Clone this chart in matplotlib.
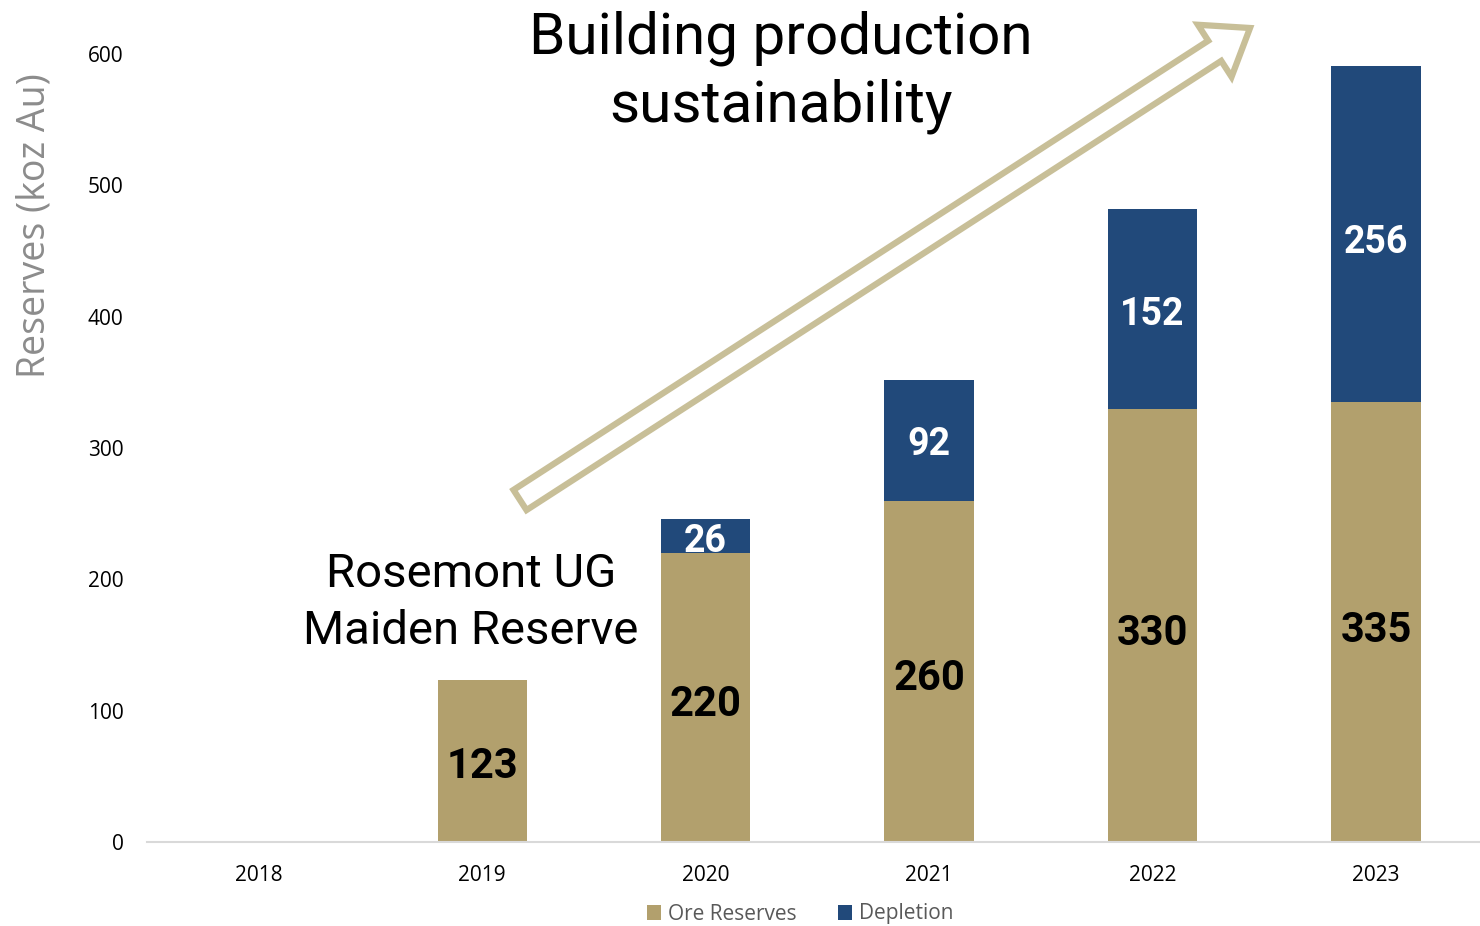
import matplotlib
matplotlib.use("Agg")
import matplotlib.pyplot as plt
from matplotlib.patches import FancyArrow
from matplotlib import font_manager

years = ["2018", "2019", "2020", "2021", "2022", "2023"]
ore_reserves = [0, 123, 220, 260, 330, 335]
depletion = [0, 0, 26, 92, 152, 256]
ore_labels = ["", "123", "220", "260", "330", "335"]
dep_labels = ["", "", "26", "92", "152", "256"]
yticks = [0, 100, 200, 300, 400, 500, 600]

tan = "#b2a06d"
blue = "#21497a"
arrow_col = "#c8bf98"

names = {f.name for f in font_manager.fontManager.ttflist}
narrow = "Liberation Sans Narrow" if "Liberation Sans Narrow" in names else "Roboto"
body = "Open Sans"

W, H = 1480, 926
fig = plt.figure(figsize=(W / 100, H / 100), dpi=100)
ax = fig.add_axes([147 / W, (H - 842) / H, (1480 - 147) / W, (842 - 54) / H])

x = list(range(len(years)))
ax.bar(x, ore_reserves, width=0.4, color=tan, label="Ore Reserves", zorder=2)
ax.bar(x, depletion, width=0.4, bottom=ore_reserves, color=blue, label="Depletion", zorder=2)

for i in x:
    if ore_labels[i]:
        ax.text(i, ore_reserves[i] * 0.49 - 3, ore_labels[i],
                ha="center", va="center", fontsize=30, fontweight="bold",
                family=narrow, color="black", zorder=3)
    if dep_labels[i]:
        frac = 0.41 if depletion[i] < 50 else 0.48
        ax.text(i, ore_reserves[i] + depletion[i] * frac - 1.5,
                dep_labels[i], ha="center", va="center", fontsize=27, fontweight="bold",
                family=narrow, color="white", zorder=3)

ax.set_xlim(-0.5, 5.465)
ax.set_ylim(0, 600)
ax.set_xticks(x)
ax.set_xticklabels(years, fontsize=15, family=body)
ax.set_yticks(yticks)
ax.set_yticklabels([str(v) for v in yticks], fontsize=15, family=body)
ax.tick_params(axis="y", length=0, pad=17)
ax.tick_params(axis="x", length=0, pad=16.5)
for s in ["top", "right", "left"]:
    ax.spines[s].set_visible(False)
ax.spines["bottom"].set_color("#d9d9d9")
ax.spines["bottom"].set_linewidth(1.5)

fig.text(35 / W, 1 - 226 / H, "Reserves (koz Au)", rotation=90, ha="center", va="center",
         fontsize=27, color="#8c8c8c", family=body)

fig.text(781 / W, 1 - 38 / H, "Building production", ha="center", va="center",
         fontsize=42, family=narrow, color="black")
fig.text(781 / W, 1 - 106 / H, "sustainability", ha="center", va="center",
         fontsize=42, family=narrow, color="black")
fig.text(471 / W, 1 - 574 / H, "Rosemont UG", ha="center", va="center",
         fontsize=34, family=narrow, color="black")
fig.text(471 / W, 1 - 631 / H, "Maiden Reserve", ha="center", va="center",
         fontsize=34, family=narrow, color="black")

# hollow arrow in inch coordinates
x0, y0 = 520 / 100, (H - 500) / 100
x1, y1 = 1250 / 100, (H - 28) / 100
arr = FancyArrow(x0, y0, x1 - x0, y1 - y0, width=0.24, head_width=0.62, head_length=0.42,
                 length_includes_head=True, facecolor="white", edgecolor=arrow_col,
                 linewidth=4.5, transform=fig.dpi_scale_trans, zorder=5)
fig.add_artist(arr)

leg = fig.legend(loc="center", bbox_to_anchor=(800 / W, 1 - 914 / H), ncol=2, frameon=False,
                 handlelength=0.7, handleheight=0.7, handletextpad=0.3,
                 columnspacing=2.0, prop={"family": body, "size": 15})
for t in leg.get_texts():
    t.set_color("#595959")

fig.savefig("out.png", dpi=100, facecolor="white")
